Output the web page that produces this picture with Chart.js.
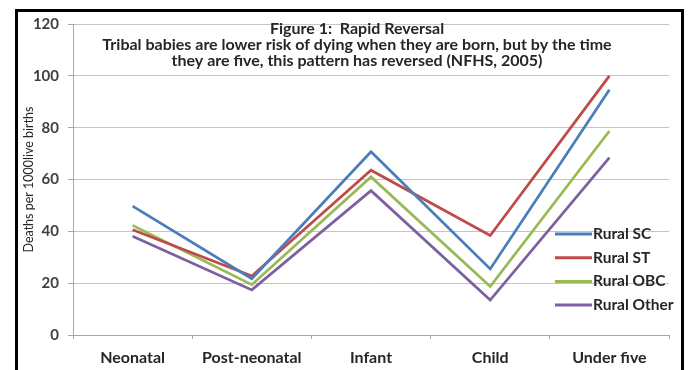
<!DOCTYPE html>
<html>
<head>
<meta charset="utf-8">
<script src="https://cdn.jsdelivr.net/npm/chart.js@4/dist/chart.umd.min.js"></script>
<style>
  html, body { margin: 0; padding: 0; background: #fff; }
  #wrap { position: relative; width: 692px; height: 370px; }
</style>
</head>
<body>
<div id="wrap"><canvas id="c" width="692" height="370"></canvas></div>
<script>
// Under-five mortality by stage, rural social groups (deaths per 1000 live births)
const categories = ['Neonatal', 'Post-neonatal', 'Infant', 'Child', 'Under five'];
const seriesNames = ['Rural SC', 'Rural ST', 'Rural OBC', 'Rural Other'];
const ruralSC    = [49.7, 21.7, 70.7, 25.5, 94.6];
const ruralST    = [40.6, 22.8, 63.6, 38.4, 100.0];
const ruralOBC   = [42.3, 19.4, 61.0, 18.7, 78.7];
const ruralOther = [38.1, 17.4, 55.7, 13.5, 68.4];
const yTicks = [0, 20, 40, 60, 80, 100, 120];
const titleLines = [
  'Figure 1:  Rapid Reversal',
  'Tribal babies are lower risk of dying when they are born, but by the time',
  'they are five, this pattern has reversed (NFHS, 2005)'
];
const yTitle = 'Deaths per 1000live births';

const seriesColors = ['#4A7EBB', '#BE4B48', '#98B954', '#7D60A0'];
const seriesValues = [ruralSC, ruralST, ruralOBC, ruralOther];

Chart.defaults.font.family = 'Lato, "Open Sans", sans-serif';

// Black frame around the whole figure
const framePlugin = {
  id: 'frame',
  afterDraw(chart) {
    const ctx = chart.ctx;
    ctx.save();
    ctx.strokeStyle = '#000';
    ctx.lineWidth = 3;
    ctx.strokeRect(16.5, 10.5, 666, 420);
    ctx.restore();
  }
};

// Heading drawn inside the plot, above the series
const headingPlugin = {
  id: 'heading',
  afterDatasetsDraw(chart) {
    const ctx = chart.ctx;
    ctx.save();
    ctx.fillStyle = '#262626';
    ctx.font = 'bold 16px Lato, sans-serif';
    ctx.textAlign = 'center';
    ctx.textBaseline = 'middle';
    const ys = [29, 45, 61];
    titleLines.forEach((t, i) => ctx.fillText(t, 357, ys[i]));
    ctx.restore();
  }
};

// Legend drawn over the lower right of the plot
const legendPlugin = {
  id: 'sideLegend',
  afterDatasetsDraw(chart) {
    const ctx = chart.ctx;
    ctx.save();
    ctx.font = 'bold 15.5px Lato, sans-serif';
    ctx.textBaseline = 'middle';
    ctx.textAlign = 'left';
    chart.data.datasets.forEach((ds, i) => {
      const y = 234 + i * 23.7;
      ctx.strokeStyle = ds.borderColor;
      ctx.lineWidth = 3;
      ctx.beginPath();
      ctx.moveTo(555, y);
      ctx.lineTo(592, y);
      ctx.stroke();
      ctx.fillStyle = '#262626';
      ctx.fillText(ds.label, 593, y);
    });
    ctx.restore();
  }
};

new Chart(document.getElementById('c'), {
  type: 'line',
  data: {
    labels: categories,
    datasets: seriesNames.map((name, i) => ({
      label: name,
      data: seriesValues[i],
      borderColor: seriesColors[i],
      backgroundColor: seriesColors[i],
      borderWidth: 2.75,
      pointRadius: 0,
      tension: 0,
      fill: false
    }))
  },
  options: {
    responsive: false,
    animation: false,
    devicePixelRatio: 1,
    layout: { padding: { top: 24, right: 23, left: 0, bottom: 0 } },
    plugins: {
      legend: { display: false },
      title: { display: false },
      tooltip: { enabled: false }
    },
    scales: {
      x: {
        offset: true,
        grid: {
          offset: true,
          drawOnChartArea: false,
          drawTicks: true,
          tickLength: 4,
          tickColor: '#a6a6a6',
          color: '#a6a6a6'
        },
        border: { color: '#a6a6a6', width: 1 },
        ticks: {
          color: '#262626',
          font: { size: 16, weight: 'bold' },
          padding: 9,
          maxRotation: 0,
          autoSkip: false
        },
        afterFit(s) { s.height = 35; }
      },
      y: {
        min: 0,
        max: 120,
        afterBuildTicks(s) { s.ticks = yTicks.map(v => ({ value: v })); },
        grid: {
          color: '#c4c4c4',
          lineWidth: 1,
          tickLength: 5,
          tickColor: '#a6a6a6'
        },
        border: { color: '#a6a6a6', width: 1 },
        ticks: {
          color: '#404040',
          font: { size: 15, weight: 'bold' },
          padding: 9
        },
        title: {
          display: true,
          text: yTitle,
          color: '#262626',
          font: { size: 12.5, weight: 'normal' },
          padding: { top: 21, bottom: 0 }
        },
        afterFit(s) { s.width = 73; }
      }
    }
  },
  plugins: [framePlugin, headingPlugin, legendPlugin]
});
</script>
</body>
</html>
